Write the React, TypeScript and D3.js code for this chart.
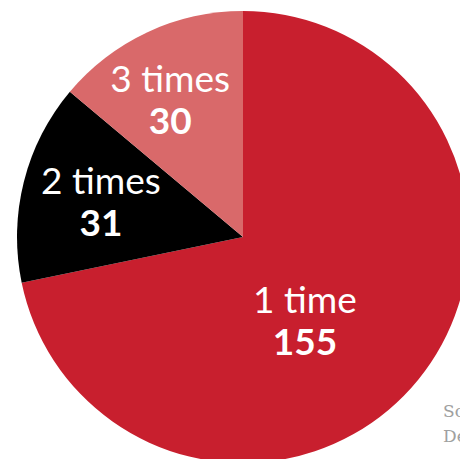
import React from "react";
import * as d3 from "d3";

const categories = ["1 time", "2 times", "3 times"];
const values = [155, 31, 30];
const colors = ["#c81f2e", "#000000", "#d9696a"];
const sourceLines = ["Source: Survey of respondents", "Design: number of times"];

const W = 460;
const H = 459;
const cx = 243;
const cy = 237;
const R = 226;

// label placement (polar offsets from the centre to the first baseline: radius, degrees clockwise from top)
const labelPolar = [
  { r: 98, a: 140.8 },
  { r: 148.4, a: 286.8 },
  { r: 162, a: 333.3 },
];

export default function App() {
  const data = categories.map((c, i) => ({ c, v: values[i], col: colors[i] }));
  const pie = d3.pie<any>().value((d) => d.v).sort(null);
  const arcs = pie(data);
  const arc = d3.arc<any>().innerRadius(0).outerRadius(R);

  return (
    <svg
      width={W}
      height={H}
      style={{ position: "absolute", left: 0, top: 0, display: "block" }}
    >
      <g transform={`translate(${cx},${cy})`}>
        {arcs.map((a, i) => (
          <path key={i} d={arc(a) as string} fill={a.data.col} />
        ))}
        {arcs.map((a, i) => {
          const lp = labelPolar[i];
          const ang = (lp.a * Math.PI) / 180;
          const x = lp.r * Math.sin(ang);
          const y = -lp.r * Math.cos(ang);
          return (
            <g key={"l" + i} transform={`translate(${x},${y})`}>
              <text
                textAnchor="middle"
                y={0}
                fill="#fff"
                style={{ fontFamily: "Lato", fontSize: 37, fontWeight: 400 }}
              >
                {a.data.c}
              </text>
              <text
                textAnchor="middle"
                y={42}
                fill="#fff"
                style={{ fontFamily: "Lato", fontSize: 37, fontWeight: 700 }}
              >
                {a.data.v}
              </text>
            </g>
          );
        })}
      </g>
      {sourceLines.map((s, i) => (
        <text
          key={s}
          x={443}
          y={417 + i * 25}
          fill="#a0a0a0"
          style={{ fontFamily: "DejaVu Serif", fontSize: 17, fontWeight: 300 }}
        >
          {s}
        </text>
      ))}
    </svg>
  );
}
